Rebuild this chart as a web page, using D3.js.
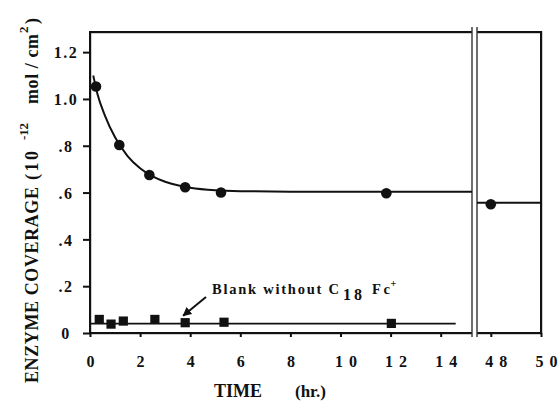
<!DOCTYPE html>
<html><head><meta charset="utf-8">
<script src="https://cdn.jsdelivr.net/npm/d3@7/dist/d3.min.js"></script>
<style>
html,body{margin:0;padding:0;background:#fff;}
svg{display:block;}
text{font-family:"Liberation Serif","Times New Roman",serif;font-weight:bold;fill:#111;}
</style></head>
<body>
<svg id="chart" width="560" height="402" viewBox="0 0 560 402"></svg>
<script>
// ---- data ----
const circleT = [0.24, 1.17, 2.37, 3.80, 5.23, 11.83];
const circleV = [1.053, 0.803, 0.675, 0.623, 0.600, 0.597];
const lateCircleT = [48];
const lateCircleV = [0.55];
const squareT = [0.37, 0.84, 1.33, 2.59, 3.80, 5.35, 12.03];
const squareV = [0.058, 0.038, 0.051, 0.058, 0.044, 0.046, 0.041];
const fitT = [0.13, 0.3, 0.6, 1.0, 1.5, 2.0, 2.5, 3.0, 3.5, 4.0, 5.0, 6.0, 8.0, 15.25];
const fitV = [1.10, 1.02, 0.928, 0.836, 0.756, 0.704, 0.669, 0.646, 0.631, 0.621, 0.610, 0.606, 0.604, 0.603];
const lateFitT = [47.45, 50];
const lateFitV = [0.557, 0.557];
const blankT = [0, 14.6];
const blankV = [0.04, 0.04];
const xTicksLeft = [0, 2, 4, 6, 8, 10, 12, 14];
const xTicksRight = [48, 50];
const yTicks = [0, 0.2, 0.4, 0.6, 0.8, 1.0, 1.2];
const yTickLabels = ["0", ".2", ".4", ".6", ".8", "1.0", "1.2"];
const blankLabel = ["Blank without C", "18", "Fc", "+"];
const xTitle = ["TIME", "(hr.)"];
const yTitle = ["ENZYME COVERAGE", "(10", "-12", "mol / cm", "2", ")"];

// ---- scales ----
const svg = d3.select("#chart");
const xL = d3.scaleLinear().domain([0, 15.25]).range([90, 472]);
const xR = d3.scaleLinear().domain([47.45, 50]).range([477, 541]);
const y = d3.scaleLinear().domain([0, 1.286]).range([333, 32]);
const yTop = y(1.286), yBot = y(0);

// ---- frame borders as filled bars ----
const fr = svg.append("g").attr("fill", "#111");
fr.append("rect").attr("x", xL(0) - 1).attr("y", yTop - 1).attr("width", xL(15.25) - xL(0) + 1).attr("height", 2.2);
fr.append("rect").attr("x", xR(47.45)).attr("y", yTop - 1).attr("width", xR(50) - xR(47.45) + 1).attr("height", 2.2);
fr.append("rect").attr("x", xR(50) - 1).attr("y", yTop - 1).attr("width", 2.2).attr("height", yBot - yTop + 2);
fr.append("rect").attr("x", xL(0) - 1).attr("y", yTop - 1).attr("width", 2.2).attr("height", yBot - yTop + 2);
fr.append("rect").attr("x", xL(0) - 1).attr("y", yBot - 1).attr("width", xL(15.25) - xL(0) + 1).attr("height", 2.2);
fr.append("rect").attr("x", xR(47.45)).attr("y", yBot - 1).attr("width", xR(50) - xR(47.45) + 1).attr("height", 2.2);
// axis break lines
[xL(15.25), xR(47.45)].forEach(xv => {
  fr.append("rect").attr("x", xv - 0.7).attr("y", yTop - 5).attr("width", 1.4)
    .attr("height", yBot - yTop + 9).attr("fill", "#333");
});

// ---- left axis ----
const yAxis = svg.append("g").attr("transform", `translate(${xL(0)},0)`)
  .call(d3.axisLeft(y).tickValues(yTicks).tickSize(7).tickSizeOuter(0).tickFormat((d, i) => yTickLabels[i]));
yAxis.select(".domain").remove();
yAxis.selectAll(".tick line").attr("stroke", "#111").attr("stroke-width", 2);
yAxis.selectAll(".tick text").attr("x", -24).attr("dy", "0.36em")
  .attr("text-anchor", "middle").style("font-size", "16px").style("letter-spacing", "1.5px");

// ---- bottom axes ----
function styleX(g) {
  g.select(".domain").remove();
  g.selectAll(".tick line").attr("stroke", "#111").attr("stroke-width", 2);
  g.selectAll(".tick text").attr("y", 0).attr("dy", 0)
    .style("font-size", "16px").attr("transform", "translate(0,34)")
    .each(function (d) {
      const s = String(d);
      if (s.length > 1) {
        d3.select(this).attr("text-anchor", "start").attr("x", 5 - 11)
          .attr("textLength", 22).attr("lengthAdjust", "spacing");
      }
    });
}
svg.append("g").attr("transform", `translate(0,${yBot})`)
  .call(d3.axisBottom(xL).tickValues(xTicksLeft).tickSize(4).tickSizeOuter(0).tickFormat(d3.format("d"))).call(styleX);
svg.append("g").attr("transform", `translate(0,${yBot})`)
  .call(d3.axisBottom(xR).tickValues(xTicksRight).tickSize(4).tickSizeOuter(0).tickFormat(d3.format("d"))).call(styleX);

// ---- curves ----
const lineL = d3.line().x(d => xL(d[0])).y(d => y(d[1])).curve(d3.curveMonotoneX);
const lineR = d3.line().x(d => xR(d[0])).y(d => y(d[1]));
svg.append("path").attr("d", lineL(fitT.map((t, i) => [t, fitV[i]])))
  .attr("fill", "none").attr("stroke", "#111").attr("stroke-width", 2);
svg.append("path").attr("d", lineR(lateFitT.map((t, i) => [t, lateFitV[i]])))
  .attr("fill", "none").attr("stroke", "#111").attr("stroke-width", 2);
svg.append("path").attr("d", lineL(blankT.map((t, i) => [t, blankV[i]])))
  .attr("fill", "none").attr("stroke", "#111").attr("stroke-width", 1.8);

// ---- markers ----
svg.append("g").selectAll("circle").data(circleT).join("circle")
  .attr("cx", d => xL(d)).attr("cy", (d, i) => y(circleV[i])).attr("r", 5.3).attr("fill", "#111");
svg.append("g").selectAll("circle").data(lateCircleT).join("circle")
  .attr("cx", d => xR(d)).attr("cy", (d, i) => y(lateCircleV[i])).attr("r", 5.3).attr("fill", "#111");
svg.append("g").selectAll("rect").data(squareT).join("rect")
  .attr("x", d => xL(d) - 4.6).attr("y", (d, i) => y(squareV[i]) - 4.6)
  .attr("width", 9.2).attr("height", 9.2).attr("fill", "#111");

// ---- annotation ----
const defs = svg.append("defs");
defs.append("marker").attr("id", "arr").attr("viewBox", "0 0 10 10")
  .attr("refX", 9).attr("refY", 5).attr("markerWidth", 9).attr("markerHeight", 9)
  .attr("markerUnits", "userSpaceOnUse").attr("orient", "auto")
  .append("path").attr("d", "M0,0L10,5L0,10Z").attr("fill", "#111");
svg.append("line")
  .attr("x1", xL(4.63)).attr("y1", y(0.154)).attr("x2", xL(3.72)).attr("y2", y(0.074))
  .attr("stroke", "#111").attr("stroke-width", 2).attr("marker-end", "url(#arr)");
const ann = svg.append("g");
ann.append("text").attr("x", 212).attr("y", 294).style("font-size", "14.5px")
  .attr("textLength", 127).attr("lengthAdjust", "spacing").text(blankLabel[0]);
ann.append("text").attr("x", 343).attr("y", 300).style("font-size", "16px")
  .attr("textLength", 19).attr("lengthAdjust", "spacing").text(blankLabel[1]);
ann.append("text").attr("x", 372).attr("y", 294).style("font-size", "14.5px")
  .attr("textLength", 18).attr("lengthAdjust", "spacing").text(blankLabel[2]);
ann.append("text").attr("x", 390.5).attr("y", 287).style("font-size", "10px").text(blankLabel[3]);

// ---- axis titles ----
svg.append("text").attr("x", 214).attr("y", 397).style("font-size", "18px")
  .attr("textLength", 48).attr("lengthAdjust", "spacing").text(xTitle[0]);
svg.append("text").attr("x", 295).attr("y", 397).style("font-size", "17px").text(xTitle[1]);

const yt = svg.append("g").attr("transform", "rotate(-90)");
yt.append("text").attr("x", -383).attr("y", 38).style("font-size", "18px")
  .attr("textLength", 196).attr("lengthAdjust", "spacing").text(yTitle[0]);
yt.append("text").attr("x", -180).attr("y", 38).style("font-size", "18px")
  .attr("textLength", 29).attr("lengthAdjust", "spacing").text(yTitle[1]);
yt.append("text").attr("x", -140).attr("y", 28).style("font-size", "13px")
  .attr("textLength", 17).attr("lengthAdjust", "spacing").text(yTitle[2]);
yt.append("text").attr("x", -104).attr("y", 38).style("font-size", "18px")
  .attr("textLength", 70).attr("lengthAdjust", "spacing").text(yTitle[3]);
yt.append("text").attr("x", -33).attr("y", 28).style("font-size", "13px").text(yTitle[4]);
yt.append("text").attr("x", -24).attr("y", 38).style("font-size", "18px").text(yTitle[5]);
</script>
</body></html>
